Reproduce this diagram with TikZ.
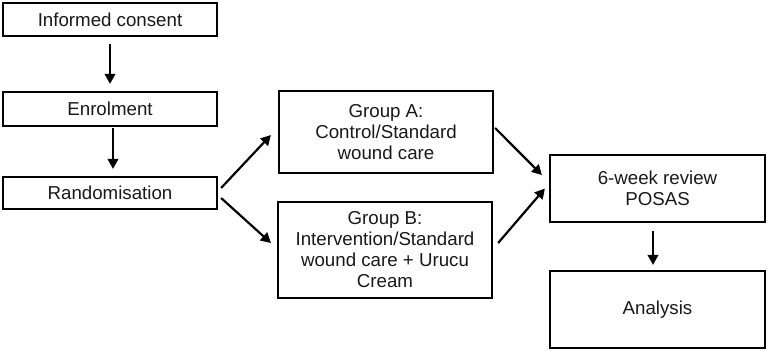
\documentclass[tikz,border=0pt]{standalone}
\usepackage{fontspec}
\setmainfont{Liberation Sans}
\usetikzlibrary{arrows.meta}
\begin{document}
\begin{tikzpicture}[x=1pt,y=-1pt,
  box/.style={draw=black,line width=2.2pt,rectangle,inner sep=0pt,align=center,
    font=\fontsize{18.7}{21}\selectfont,text=black!90},
  arr/.style={line width=2.2pt,-{Triangle[length=10pt,width=10.5pt]}}]
\useasboundingbox (0,0) rectangle (767,351);
\node[box,minimum width=214pt,minimum height=33pt] (consent) at (110,19.5) {Informed consent};
\node[box,minimum width=214pt,minimum height=34pt] (enrol) at (110,109) {Enrolment};
\node[box,minimum width=214pt,minimum height=32pt] (random) at (110,193) {Randomisation};
\node[box,minimum width=214pt,minimum height=82pt] (A) at (386,132) {Group A:\\Control/Standard\\wound care};
\node[box,minimum width=214pt,minimum height=96pt] (B) at (385,250) {Group B:\\Intervention/Standard\\wound care + Urucu\\Cream};
\node[box,minimum width=215pt,minimum height=67pt] (review) at (657.5,188.5) {6-week review\\POSAS};
\node[box,minimum width=215pt,minimum height=77pt] (analysis) at (657.5,309.5) {Analysis};
\draw[arr,shorten <=7pt,shorten >=7pt] (consent) -- (enrol);
\draw[arr,shorten <=1pt,shorten >=7pt] ([xshift=3pt]enrol.south) -- ([xshift=3pt]random.north);
\draw[arr] ([shift={(3,-5)}]random.east) -- ([shift={(-7,3)}]A.west);
\draw[arr] ([shift={(3,5)}]random.east) -- ([shift={(-6,-7)}]B.west);
\draw[arr] ([shift={(1,-4)}]A.east) -- ([shift={(-7,-13.5)}]review.west);
\draw[arr] ([shift={(5,-7)}]B.east) -- ([shift={(-4,0)}]review.west);
\draw[arr,shorten <=8pt,shorten >=5pt] ([xshift=-4.5pt]review.south) -- ([xshift=-4.5pt]analysis.north);
\end{tikzpicture}
\end{document}
